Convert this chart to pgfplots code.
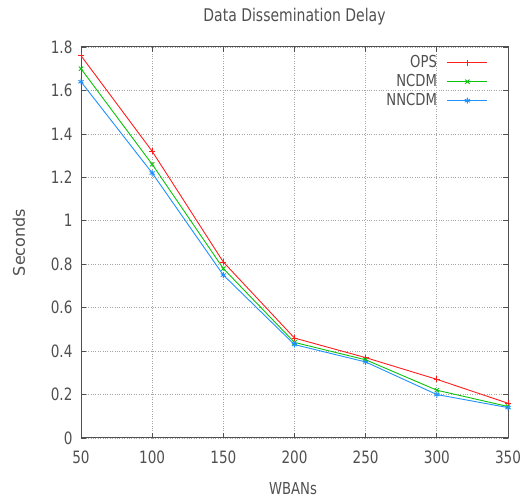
\documentclass[border=0pt]{standalone}
\usepackage{fontspec}
\setmainfont[FakeStretch=0.8]{DejaVu Sans}
\newfontfamily\widefont{DejaVu Sans}
\usepackage{pgfplots}
\pgfplotsset{compat=1.18}
\definecolor{opsred}{RGB}{255,30,30}
\definecolor{ncdmgreen}{RGB}{10,195,10}
\definecolor{nncdmblue}{RGB}{30,144,255}
\definecolor{axgray}{RGB}{80,80,80}
\begin{document}
\begin{tikzpicture}
\begin{axis}[
    scale only axis,
    width=427pt,
    height=391pt,
    xmin=50, xmax=350,
    ymin=0, ymax=1.8,
    xtick={50,100,...,350},
    ytick={0,0.2,...,1.8},
    /pgf/number format/assume math mode=true,
    tick label style={font=\fontsize{17}{19}\selectfont, text=axgray},
    xticklabel style={yshift=-9pt},
    yticklabel style={xshift=-5pt},
    title={Data Dissemination Delay},
    every axis title/.style={at={(rel axis cs:0.5,1)}, anchor=center, yshift=30pt,
        font=\fontsize{17.5}{19}\selectfont, text=axgray},
    xlabel={WBANs},
    ylabel={Seconds},
    every axis x label/.style={at={(rel axis cs:0.5,0)}, anchor=center,
        yshift=-51pt, xshift=-1.5pt, font=\fontsize{16.5}{18}\selectfont, text=axgray},
    every axis y label/.style={at={(rel axis cs:0,0.5)}, anchor=center,
        rotate=90, yshift=62pt, font=\widefont\fontsize{16}{18}\selectfont, text=axgray},
    axis line style={axgray, line width=1pt},
    tick style={axgray, line width=0.7pt},
    tick align=inside,
    major tick length=5pt,
    grid=major,
    grid style={gray!70, dotted, line width=0.7pt},
    legend style={at={(rel axis cs:1,1)}, anchor=north east,
        xshift=-17pt, yshift=-6pt,
        draw=none, fill=none, font=\fontsize{16.5}{18}\selectfont,
        row sep=4pt, column sep=10pt,
        nodes={inner sep=0pt, text height=12pt, text depth=3pt}},
    legend cell align=right,
    legend plot pos=right,
    legend image code/.code={%
        \draw[mark repeat=2,mark phase=2] plot coordinates {(0pt,0pt) (20pt,0pt) (40pt,0pt)};},
    every axis plot/.append style={line width=0.9pt, mark size=3pt},
]
\coordinate (sw) at (rel axis cs:0,0);
\coordinate (ne) at (rel axis cs:1,1);
\addplot[color=opsred, mark=+] coordinates {
    (50,1.76) (100,1.32) (150,0.81) (200,0.46) (250,0.37) (300,0.27) (350,0.16)
};
\addlegendentry{\textcolor{axgray}{OPS}}
\addplot[color=ncdmgreen, mark=x] coordinates {
    (50,1.70) (100,1.26) (150,0.78) (200,0.44) (250,0.36) (300,0.22) (350,0.145)
};
\addlegendentry{\textcolor{axgray}{NCDM}}
\addplot[color=nncdmblue, mark=asterisk] coordinates {
    (50,1.64) (100,1.22) (150,0.75) (200,0.43) (250,0.35) (300,0.20) (350,0.14)
};
\addlegendentry{\textcolor{axgray}{NNCDM}}
\end{axis}
\pgfresetboundingbox
\path[use as bounding box] ([shift={(-81pt,-64pt)}]sw) rectangle ([shift={(13pt,47pt)}]ne);
\end{tikzpicture}
\end{document}
